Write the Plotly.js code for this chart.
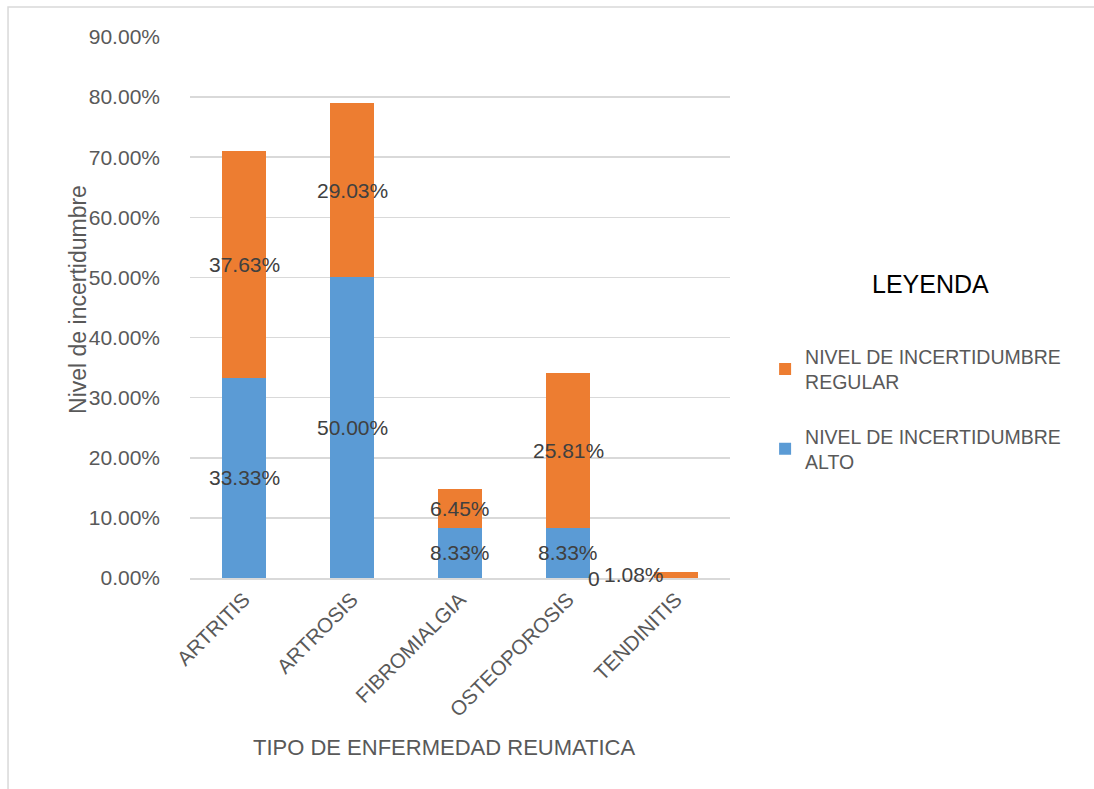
<!DOCTYPE html>
<html>
<head>
<meta charset="utf-8">
<script src="https://cdn.plot.ly/plotly-3.0.1.min.js"></script>
<style>html,body{margin:0;padding:0;background:#fff;}#chart{width:1094px;height:789px;}</style>
</head>
<body>
<div id="chart"></div>
<script>
const categorias = ['ARTRITIS', 'ARTROSIS', 'FIBROMIALGIA', 'OSTEOPOROSIS', 'TENDINITIS'];
const nivelAlto = [33.33, 50.00, 8.33, 8.33, 0];
const nivelRegular = [37.63, 29.03, 6.45, 25.81, 1.08];
const etiquetasAlto = ['33.33%', '50.00%', '8.33%', '8.33%', '0'];
const etiquetasRegular = ['37.63%', '29.03%', '6.45%', '25.81%', '1.08%'];
const valoresEje = [0, 10, 20, 30, 40, 50, 60, 70, 80, 90];
const textosEje = ['0.00%', '10.00%', '20.00%', '30.00%', '40.00%', '50.00%', '60.00%', '70.00%', '80.00%', '90.00%'];
const nombreAlto = 'NIVEL DE INCERTIDUMBRE<br>ALTO';
const nombreRegular = 'NIVEL DE INCERTIDUMBRE<br>REGULAR';

const AZUL = '#5B9BD5', NARANJA = '#ED7D31';
const desplAlto = [0, 0, 0, 0, -82];
const desplRegular = [0, 0, 0, 0, -42];
const FUENTE = 'Liberation Sans, Arial, sans-serif';

const traces = [
  {type: 'bar', x: categorias, y: nivelAlto, name: nombreAlto, marker: {color: AZUL}, width: 0.41, legendrank: 2, legendgroup: 'alto', hoverinfo: 'none'},
  {type: 'bar', x: categorias, y: nivelRegular, name: nombreRegular, marker: {color: NARANJA}, width: 0.41, legendrank: 1, legendgroup: 'regular', hoverinfo: 'none'}
];

const labelFont = {family: FUENTE, size: 21, color: '#404040'};
const annotations = [];
categorias.forEach((c, i) => {
  annotations.push({x: c, y: nivelAlto[i] / 2, xref: 'x', yref: 'y', text: etiquetasAlto[i], showarrow: false, font: labelFont, xshift: desplAlto[i]});
  annotations.push({x: c, y: nivelAlto[i] + nivelRegular[i] / 2, xref: 'x', yref: 'y', text: etiquetasRegular[i], showarrow: false, font: labelFont, xshift: desplRegular[i]});
});
annotations.push({text: 'Nivel de incertidumbre', xref: 'paper', yref: 'paper', x: -0.2074, y: 0.514, xanchor: 'center', yanchor: 'middle', textangle: -90, showarrow: false,
  font: {family: FUENTE, size: 23, color: '#595959'}});
annotations.push({text: 'TIPO DE ENFERMEDAD REUMATICA', xref: 'paper', yref: 'paper', x: 0.472, y: -0.3124, xanchor: 'center', yanchor: 'middle', showarrow: false,
  font: {family: FUENTE, size: 22, color: '#595959'}});
annotations.push({text: 'LEYENDA', xref: 'paper', yref: 'paper', x: 1.372, y: 0.5434, xanchor: 'center', yanchor: 'middle', showarrow: false,
  font: {family: FUENTE, size: 25, color: '#000000'}});

const layout = {
  width: 1094, height: 789,
  margin: {l: 190, r: 364, t: 37, b: 211, autoexpand: false},
  paper_bgcolor: '#ffffff', plot_bgcolor: '#ffffff',
  barmode: 'stack',
  showlegend: true,
  legend: {x: 1.065, y: 0.445, xanchor: 'left', yanchor: 'top', traceorder: 'grouped', tracegroupgap: 26,
    font: {family: FUENTE, size: 19.5, color: '#595959'}, itemwidth: 30},
  xaxis: {type: 'category', tickangle: -45, showline: true, linecolor: '#d9d9d9', linewidth: 1.5, ticks: '',
    tickfont: {family: FUENTE, size: 20.5, color: '#595959'}, fixedrange: true},
  yaxis: {range: [0, 90], tickvals: valoresEje, ticktext: textosEje, showgrid: true, gridcolor: '#d9d9d9', gridwidth: 1.5,
    zeroline: false, ticks: '', ticklabelstandoff: 29, tickfont: {family: FUENTE, size: 21, color: '#595959'}, fixedrange: true},
  annotations: annotations,
  shapes: [{type: 'rect', xref: 'paper', yref: 'paper', x0: -0.337, x1: 1.75, y0: -0.6, y1: 1.0555, line: {color: '#d9d9d9', width: 1.5}, fillcolor: 'rgba(0,0,0,0)', layer: 'below'}]
};

Plotly.newPlot('chart', traces, layout, {displayModeBar: false, staticPlot: true});
</script>
</body>
</html>
